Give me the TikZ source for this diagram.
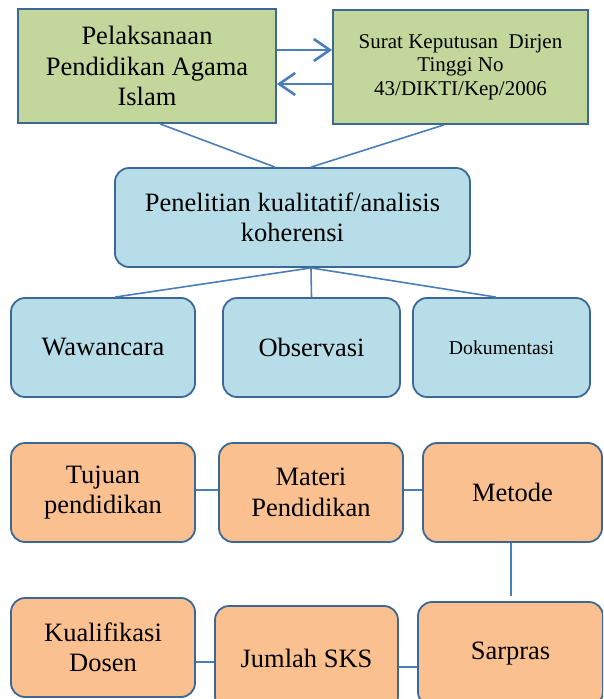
\documentclass[tikz,border=0pt]{standalone}
\usepackage{fontspec}
\setmainfont{Liberation Serif}
\usepackage{xcolor}
\usetikzlibrary{arrows.meta}
\definecolor{hijau}{HTML}{C3D69B}
\definecolor{biru}{HTML}{B7DEE8}
\definecolor{oranye}{HTML}{FAC090}
\definecolor{tepi}{HTML}{3C6797}
\definecolor{garis}{HTML}{4A7EBB}

\begin{document}
\begin{tikzpicture}[x=1pt,y=-1pt,
  kotak/.style={draw=tepi,line width=1.8pt,align=center,inner sep=2pt,font=\fontsize{26.5}{30.5}\selectfont},
  hijaubox/.style={kotak,fill=hijau},
  birubox/.style={kotak,rounded corners=14pt,fill=biru},
  oranyebox/.style={kotak,rounded corners=14pt,fill=oranye},
  garisan/.style={draw=garis,line width=1.6pt},
  panah/.style={draw=garis,line width=2.6pt,-{Straight Barb[length=16pt,width=22pt,line width=2.6pt]}}]
\useasboundingbox (0,0) rectangle (603,699);
\clip (0,0) rectangle (603,699);
% Dasar
\node[hijaubox,minimum width=258pt,minimum height=114pt] (pai) at (147,66) {Pelaksanaan\\Pendidikan Agama\\Islam};
\node[hijaubox,minimum width=255pt,minimum height=114pt,font=\fontsize{21}{23.5}\selectfont] (surat) at (460.5,67) {Surat Keputusan~ Dirjen\\Tinggi No\\43/DIKTI/Kep/2006};
\draw[panah] ([yshift=16pt]pai.east) -- ([yshift=17pt]surat.west);
\draw[panah] ([yshift=-17pt]surat.west) -- ([yshift=-18pt]pai.east);
% Metode penelitian
\node[birubox,minimum width=355pt,minimum height=99pt] (teliti) at (292.5,217.5) {Penelitian kualitatif/analisis\\koherensi};
\draw[garisan] ([xshift=13pt]pai.south) -- ([xshift=-17.5pt]teliti.north);
\draw[garisan] ([xshift=-16.5pt]surat.south) -- ([xshift=18.5pt]teliti.north);
\node[birubox,minimum width=184pt,minimum height=99pt] (wawan) at (103,347.5) {Wawancara};
\node[birubox,minimum width=177pt,minimum height=99pt] (obs) at (311.5,347.5) {Observasi};
\node[birubox,minimum width=177pt,minimum height=99pt,font=\fontsize{19.7}{22}\selectfont] (dok) at (501.5,347.5) {Dokumentasi};
\draw[garisan] ([xshift=18.5pt]teliti.south) -- ([xshift=12pt]wawan.north);
\draw[garisan] ([xshift=18.5pt]teliti.south) -- (obs.north);
\draw[garisan] ([xshift=18.5pt]teliti.south) -- ([xshift=-5.5pt]dok.north);
% Aspek
\node[oranyebox,minimum width=184pt,minimum height=99pt] (tujuan) at (103,492.5) {Tujuan\\pendidikan};
\node[oranyebox,minimum width=184pt,minimum height=99pt] (materi) at (311,492.5) {Materi\\Pendidikan};
\node[oranyebox,minimum width=179pt,minimum height=99pt] (metode) at (512.5,492.5) {Metode};
\node[oranyebox,minimum width=185pt,minimum height=104pt] (sarpras) at (510.5,654) {Sarpras};
\node[oranyebox,minimum width=183pt,minimum height=104pt] (jumlah) at (306.5,658) {Jumlah SKS};
\node[oranyebox,minimum width=184pt,minimum height=99pt] (kual) at (103,647.5) {Kualifikasi\\Dosen};
\draw[garisan] ([yshift=2.5pt]tujuan.east) -- ([yshift=2.5pt]materi.west);
\draw[garisan] ([yshift=2.5pt]materi.east) -- ([yshift=2.5pt]metode.west);
\draw[garisan,shorten >=5pt] ([xshift=-1.5pt]metode.south) -- ([xshift=0.5pt]sarpras.north);
\draw[garisan] ([yshift=-13pt]sarpras.west) -- ([yshift=-9pt]jumlah.east);
\draw[garisan] ([yshift=-4pt]jumlah.west) -- ([yshift=-14.5pt]kual.east);
\end{tikzpicture}
\end{document}
